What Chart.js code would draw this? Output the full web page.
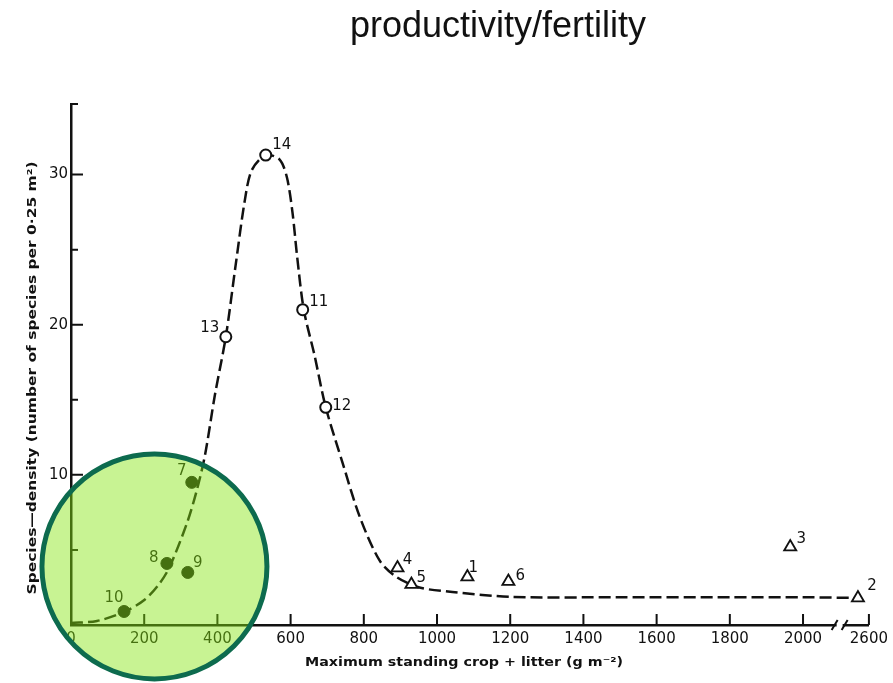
<!DOCTYPE html>
<html>
<head>
<meta charset="utf-8">
<script src="https://cdn.jsdelivr.net/npm/chart.js@4.4.1/dist/chart.umd.min.js"></script>
<style>
  html, body { margin: 0; padding: 0; background: #fff; }
  #wrap { position: relative; width: 893px; height: 683px; }
  #title {
    position: absolute; left: 498px; top: 7px; transform: translateX(-50%);
    font: 36px "Liberation Sans", Arial, sans-serif; line-height: 36px;
    color: #111; white-space: nowrap;
  }
  canvas { position: absolute; left: 0; top: 0; }
</style>
</head>
<body>
<div id="wrap">
  <canvas id="chart" width="893" height="683"></canvas>
  <div id="title">productivity/fertility</div>
</div>
<script>
// species density against standing crop + litter, numbered sites
const X_TICKS = [0, 200, 400, 600, 800, 1000, 1200, 1400, 1600, 1800, 2000, 2600];
const Y_TICKS = [10, 20, 30];
const Y_MINOR = [5, 15, 25];

const filledIds = ['7', '8', '9', '10'];
const filledX = [330, 262, 319, 145];
const filledY = [9.5, 4.1, 3.5, 0.9];

const openIds = ['11', '12', '13', '14'];
const openX = [633, 696, 423, 532];
const openY = [21.0, 14.5, 19.2, 31.3];

const triIds = ['1', '2', '3', '4', '5', '6'];
const triX = [1083, 2570, 1965, 892, 930, 1195];
const triY = [3.2, 1.8, 5.2, 3.8, 2.7, 2.9];

// hand-fitted trend curve
const curveX = [0, 71, 145, 202, 243, 270, 317, 344, 366, 393, 423, 450, 475, 494, 532, 570, 590, 605, 618, 636, 665, 696, 742, 789, 843, 889, 952, 1042, 1206, 1500, 1800, 2000, 2570];
const curveY = [0.13, 0.27, 0.87, 1.7, 2.8, 3.9, 6.8, 9.0, 11.3, 15.3, 19.2, 24.0, 28.3, 30.3, 31.3, 31.0, 29.8, 27.5, 24.5, 21.0, 18.0, 14.5, 10.8, 7.2, 4.3, 3.2, 2.5, 2.2, 1.87, 1.85, 1.85, 1.85, 1.8];

// where each site number sits relative to its marker
const LABEL_POS = {
  '1': [6, -9], '2': [14, -12], '3': [11, -8], '4': [10, -8], '5': [10, -6], '6': [12, -5],
  '7': [-10, -11], '8': [-13, -5], '9': [10, -9], '10': [-10, -13],
  '11': [16, -8], '12': [16, -1], '13': [-16, -9], '14': [16, -10]
};

const INK = '#111';

// x axis is broken between 2000 and 2600
const BREAK_AT = 2100;
const BREAK_GAP = 420;
const toAxis = v => v > BREAK_AT ? v - BREAK_GAP : v;

const pts = (xs, ys) => xs.map((x, i) => ({ x: toAxis(x), y: ys[i] }));

function fitText(ctx, text, cx, cy, width, rot) {
  ctx.save();
  ctx.translate(cx, cy);
  ctx.rotate(rot);
  const w = ctx.measureText(text).width;
  ctx.scale(width / w, 1);
  ctx.fillText(text, 0, 0);
  ctx.restore();
}

const decorations = {
  id: 'decorations',
  afterDraw(chart) {
    const { ctx } = chart;
    const xs = chart.scales.x, ys = chart.scales.y;
    ctx.save();
    ctx.strokeStyle = INK;
    ctx.fillStyle = INK;
    ctx.lineWidth = 2;

    // inward tick marks
    ctx.beginPath();
    X_TICKS.forEach(v => {
      const px = xs.getPixelForValue(toAxis(v));
      ctx.moveTo(px, ys.bottom);
      ctx.lineTo(px, ys.bottom - 11);
    });
    Y_TICKS.forEach(v => {
      const py = ys.getPixelForValue(v);
      ctx.moveTo(xs.left, py);
      ctx.lineTo(xs.left + 12, py);
    });
    Y_MINOR.concat([ys.max]).forEach(v => {
      const py = ys.getPixelForValue(v);
      ctx.moveTo(xs.left, py);
      ctx.lineTo(xs.left + 7, py);
    });
    ctx.stroke();

    // break marks on the x axis
    const bx = xs.getPixelForValue(BREAK_AT);
    ctx.fillStyle = '#fff';
    ctx.fillRect(bx - 3, ys.bottom - 3, 6, 6);
    ctx.beginPath();
    ctx.moveTo(bx - 8, ys.bottom + 5); ctx.lineTo(bx - 2, ys.bottom - 5);
    ctx.moveTo(bx + 2, ys.bottom + 5); ctx.lineTo(bx + 8, ys.bottom - 5);
    ctx.stroke();

    // site numbers
    ctx.fillStyle = INK;
    ctx.font = '15px "DejaVu Sans"';
    ctx.textAlign = 'center';
    ctx.textBaseline = 'middle';
    chart.data.datasets.forEach((ds, di) => {
      if (!ds.ids) return;
      chart.getDatasetMeta(di).data.forEach((el, i) => {
        const off = LABEL_POS[ds.ids[i]];
        ctx.fillText(ds.ids[i], el.x + off[0], el.y + off[1]);
      });
    });

    // axis titles
    ctx.font = 'bold 13px "DejaVu Sans"';
    fitText(ctx, 'Maximum standing crop + litter (g m\u207B\u00B2)', 464, 663, 318, 0);
    fitText(ctx, 'Species\u2014density (number of species per 0\u00B725 m\u00B2)', 33, 378, 433, -Math.PI / 2);

    // highlighted low-productivity region
    const cx = xs.getPixelForValue(228), cy = ys.getPixelForValue(3.9);
    ctx.beginPath();
    ctx.arc(cx, cy, 112.5, 0, Math.PI * 2);
    ctx.fillStyle = 'rgba(132, 228, 16, 0.45)';
    ctx.fill();
    ctx.lineWidth = 5;
    ctx.strokeStyle = '#0d6b4e';
    ctx.stroke();
    ctx.restore();
  }
};

new Chart(document.getElementById('chart'), {
  type: 'scatter',
  data: {
    datasets: [
      { ids: filledIds, data: pts(filledX, filledY), pointStyle: 'circle', pointRadius: 6,
        backgroundColor: INK, borderColor: INK, borderWidth: 1 },
      { ids: openIds, data: pts(openX, openY), pointStyle: 'circle', pointRadius: 5.5,
        backgroundColor: '#fff', borderColor: INK, borderWidth: 2 },
      { ids: triIds, data: pts(triX, triY), pointStyle: 'triangle', pointRadius: 7,
        backgroundColor: '#fff', borderColor: INK, borderWidth: 1.8 },
      { data: pts(curveX, curveY), showLine: true, pointRadius: 0, borderColor: INK,
        borderWidth: 2.5, borderDash: [12, 5], tension: 0.3 }
    ]
  },
  options: {
    responsive: false,
    animation: false,
    layout: { padding: { left: 0, right: 23, top: 104, bottom: 0 } },
    plugins: { legend: { display: false }, tooltip: { enabled: false } },
    scales: {
      x: {
        type: 'linear', min: 0, max: toAxis(2600),
        afterFit: s => { s.height = 58; },
        afterBuildTicks: s => { s.ticks = X_TICKS.map(v => ({ value: toAxis(v) })); },
        grid: { drawOnChartArea: false, drawTicks: false },
        border: { display: true, color: INK, width: 2.5 },
        ticks: {
          autoSkip: false, maxRotation: 0, padding: 5, color: INK,
          font: { family: 'DejaVu Sans', size: 15 },
          callback: (v, i) => String(X_TICKS[i])
        }
      },
      y: {
        min: 0, max: 34.7,
        afterFit: s => { s.width = 71; },
        grid: { drawOnChartArea: false, drawTicks: false },
        border: { display: true, color: INK, width: 2.5 },
        ticks: {
          stepSize: 5, padding: 3, color: INK,
          font: { family: 'DejaVu Sans', size: 15 },
          callback: v => Y_TICKS.includes(v) ? String(v) : ''
        }
      }
    }
  },
  plugins: [decorations]
});
</script>
</body>
</html>
